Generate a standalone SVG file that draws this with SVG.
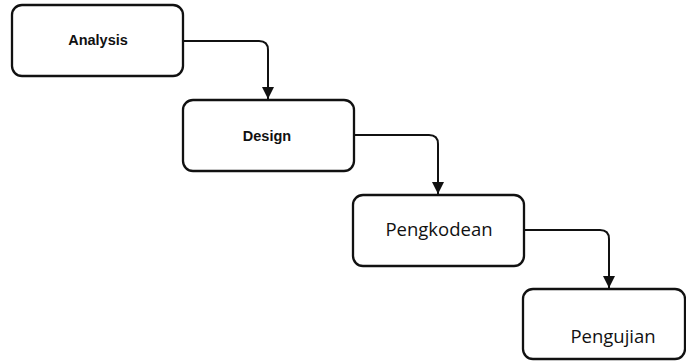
<svg xmlns="http://www.w3.org/2000/svg" width="686" height="362" viewBox="0 0 686 362">
<defs>
<style>
.box{fill:#fff;stroke:#111;stroke-width:2.3}
.conn{fill:none;stroke:#111;stroke-width:2}
.t1{font-family:"Liberation Sans",Arial,sans-serif;font-size:14.5px;font-weight:bold;fill:#111;text-anchor:middle}
.t2{font-family:"Open Sans","Noto Sans",sans-serif;font-size:18.5px;fill:#111;text-anchor:middle}
</style>
<marker id="arr" viewBox="0 0 10 10" refX="10" refY="5" markerWidth="6" markerHeight="6" orient="auto" markerUnits="strokeWidth">
<path d="M0,0 L10,5 L0,10 z" fill="#111"/>
</marker>
</defs>
<rect width="686" height="362" fill="#fff"/>
<g id="connectors">
<path class="conn" d="M183,41 H259 Q268,41 268,50 V99" marker-end="url(#arr)"/>
<path class="conn" d="M354,135 H429 Q438,135 438,144 V194" marker-end="url(#arr)"/>
<path class="conn" d="M524,230 H600 Q609,230 609,239 V288" marker-end="url(#arr)"/>
</g>
<g id="analysis">
<rect class="box" x="12" y="5" width="171" height="71" rx="10"/>
<text class="t1" x="98" y="45">Analysis</text>
</g>
<g id="design">
<rect class="box" x="183" y="100" width="171" height="71" rx="10"/>
<text class="t1" x="267" y="141">Design</text>
</g>
<g id="pengkodean">
<rect class="box" x="353" y="195" width="171" height="71" rx="10"/>
<text class="t2" x="439" y="236">Pengkodean</text>
</g>
<g id="pengujian">
<rect class="box" x="523" y="289" width="162" height="70" rx="10"/>
<text class="t2" x="613" y="343">Pengujian</text>
</g>
</svg>
